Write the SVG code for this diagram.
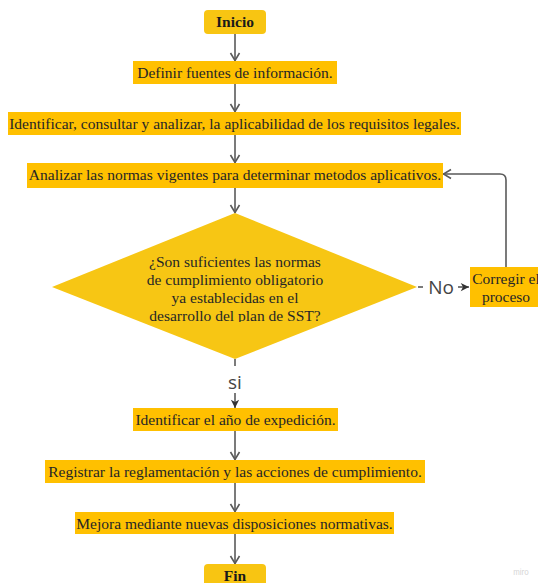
<svg xmlns="http://www.w3.org/2000/svg" width="538" height="583" viewBox="0 0 538 583">
  <style>
    .box { fill: #FFC000; }
    .term { fill: #F8C512; }
    .dia { fill: #F7C614; }
    .t { font-family: "Liberation Serif", "Times New Roman", serif; font-size: 15.5px; fill: #262626; text-anchor: middle; }
    .tb { font-family: "Liberation Serif", "Times New Roman", serif; font-size: 15.5px; font-weight: bold; fill: #1a1a1a; text-anchor: middle; }
    .lbl { font-family: "Open Sans", "Noto Sans", sans-serif; font-size: 19px; fill: #444; text-anchor: middle; }
    .edge { fill: none; stroke: #5a5a5a; stroke-width: 1.6; }
    .open { marker-end: url(#chev); }
    .solid { marker-end: url(#tri); }
  </style>
  <defs>
    <marker id="chev" viewBox="0 0 12 12" refX="11" refY="6" markerWidth="12" markerHeight="12" markerUnits="userSpaceOnUse" orient="auto">
      <path d="M3,1.5 L10.5,6 L3,10.5" fill="none" stroke="#5a5a5a" stroke-width="1.6"/>
    </marker>
    <marker id="tri" viewBox="0 0 12 12" refX="11" refY="6" markerWidth="11" markerHeight="11" markerUnits="userSpaceOnUse" orient="auto">
      <path d="M2,1.5 L11,6 L2,10.5 L4.5,6 Z" fill="#333"/>
    </marker>
    <clipPath id="diaText">
      <rect x="120" y="245" width="230" height="77"/>
    </clipPath>
  </defs>

  <!-- connectors -->
  <g id="connectors">
    <path class="edge open" d="M235,34 V61"/>
    <path class="edge open" d="M235,84 V112"/>
    <path class="edge open" d="M235,135 V163"/>
    <path class="edge open" d="M235,188 V213"/>
    <!-- decision: No -->
    <path class="edge" d="M418,287 H423"/>
    <path class="edge solid" d="M458,287 H469"/>
    <!-- loop back from correction -->
    <path class="edge open" d="M506,267 V180 Q506,174 500,174 H443"/>
    <!-- decision: si -->
    <path class="edge" d="M235,359 V366"/>
    <path class="edge solid" d="M235,393 V408"/>
    <path class="edge open" d="M235,431 V460"/>
    <path class="edge open" d="M235,483 V512"/>
    <path class="edge open" d="M235,534 V564"/>
    <text class="lbl" x="441" y="294">No</text>
    <text class="lbl" x="235" y="389">si</text>
  </g>

  <g id="inicio">
    <rect class="term" x="204" y="10" width="62" height="24" rx="4"/>
    <text class="tb" x="235" y="27">Inicio</text>
  </g>

  <g id="definir">
    <rect class="box" x="133" y="61" width="204" height="23"/>
    <text class="t" x="235" y="78">Definir fuentes de información.</text>
  </g>

  <g id="identificar">
    <rect class="box" x="8" y="112" width="453" height="23"/>
    <text class="t" x="234.5" y="129">Identificar, consultar y analizar, la aplicabilidad de los requisitos legales.</text>
  </g>

  <g id="analizar">
    <rect class="box" x="27" y="163" width="416" height="25"/>
    <text class="t" x="235" y="180">Analizar las normas vigentes para determinar metodos aplicativos.</text>
  </g>

  <g id="decision">
    <polygon class="dia" points="235,213 417,287 235,359 52,287"/>
    <g clip-path="url(#diaText)">
      <text class="t" x="235" y="267">¿Son suficientes las normas</text>
      <text class="t" x="235" y="285">de cumplimiento obligatorio</text>
      <text class="t" x="235" y="303">ya establecidas en el</text>
      <text class="t" x="235" y="321">desarrollo del plan de SST?</text>
    </g>
  </g>

  <g id="corregir">
    <rect class="box" x="470" y="267" width="72" height="40"/>
    <text class="t" x="506" y="284">Corregir el</text>
    <text class="t" x="506" y="302">proceso</text>
  </g>

  <g id="anio">
    <rect class="box" x="133" y="408" width="205" height="23"/>
    <text class="t" x="235.5" y="425">Identificar el año de expedición.</text>
  </g>

  <g id="registrar">
    <rect class="box" x="45" y="460" width="380" height="23"/>
    <text class="t" x="235" y="477">Registrar la reglamentación y las acciones de cumplimiento.</text>
  </g>

  <g id="mejora">
    <rect class="box" x="75" y="512" width="319" height="22"/>
    <text class="t" x="234.5" y="529">Mejora mediante nuevas disposiciones normativas.</text>
  </g>

  <g id="fin">
    <rect class="term" x="204" y="564" width="62" height="26" rx="4"/>
    <text class="tb" x="235" y="581">Fin</text>
  </g>

  <text x="521" y="575" font-family="Inter, 'Noto Sans', sans-serif" font-size="7.5" fill="#d4d4d4" text-anchor="middle">miro</text>
</svg>
